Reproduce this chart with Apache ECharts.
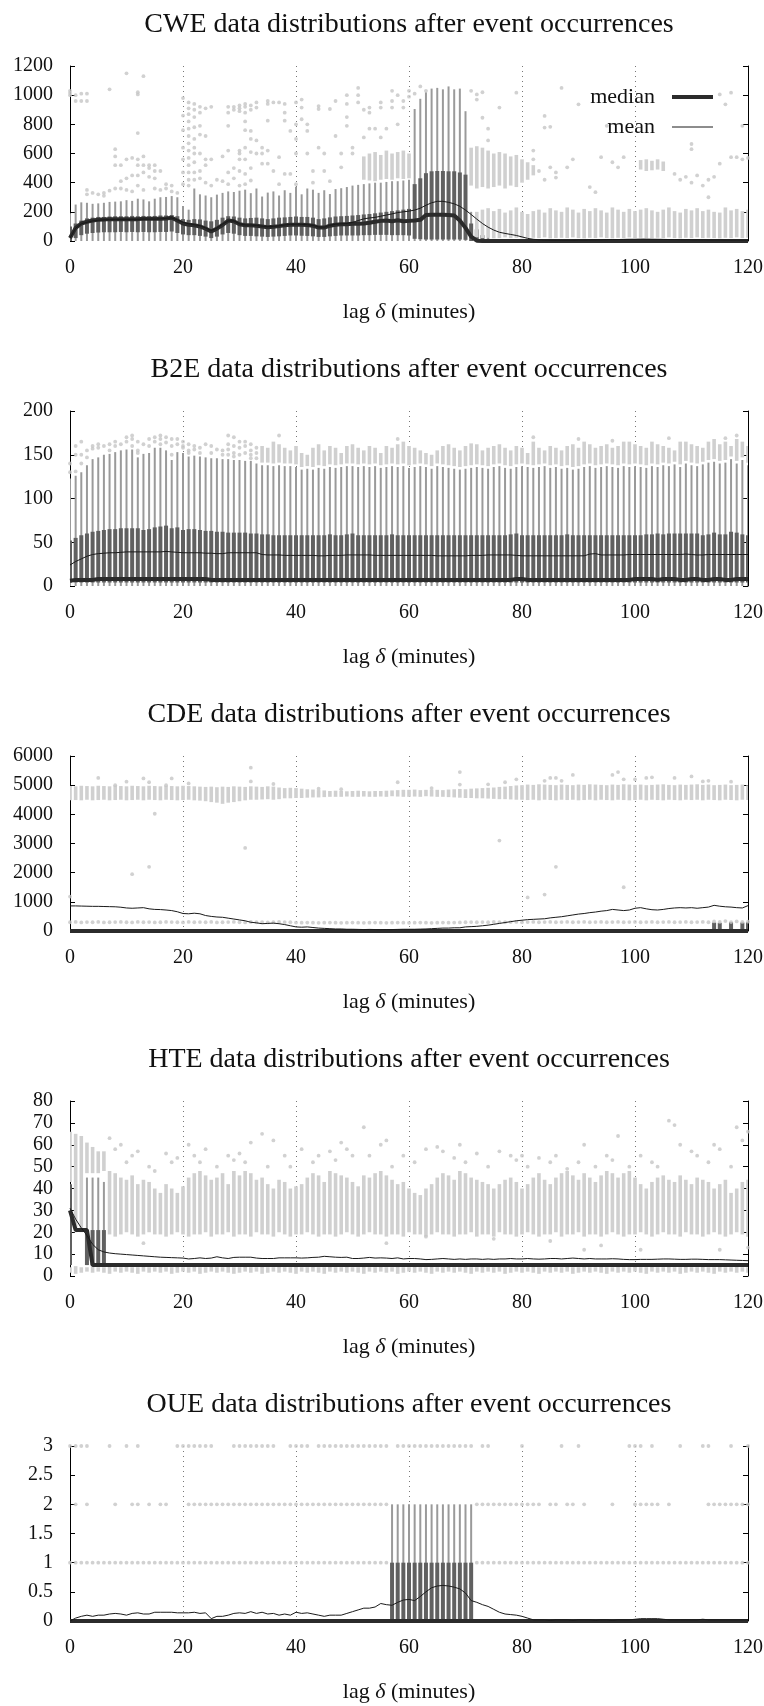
<!DOCTYPE html>
<html>
<head>
<meta charset="utf-8">
<title>Data distributions after event occurrences</title>
<script src="https://cdn.jsdelivr.net/npm/echarts@6/dist/echarts.min.js"></script>
<style>
html, body { margin: 0; padding: 0; background: #fff; }
#main { width: 764px; height: 1706px; }
</style>
</head>
<body>
<div id="main"></div>
<script>
// every array below is indexed by lag (minutes) unless a start lag is given

// ---------------- CWE ----------------
var cweMedian = [
  20, 90, 120, 132, 140, 145, 148, 150, 150, 150,
  150, 150, 150, 152, 152, 152, 152, 155, 160, 140,
  120, 112, 108, 100, 85, 65, 85, 110, 140, 135,
  115, 108, 108, 105, 100, 95, 98, 102, 108, 112,
  112, 112, 110, 105, 92, 92, 105, 112, 115, 115,
  118, 118, 120, 125, 132, 138, 140, 135, 142, 135,
  138, 140, 145, 178, 180, 180, 180, 178, 175, 140,
  90, 30, 2, 0, 0, 0, 0, 0, 0, 0,
  0, 0, 0, 0, 0, 0, 0, 0, 0, 0,
  0, 0, 0, 0, 0, 0, 0, 0, 0, 0,
  0, 0, 0, 0, 0, 0, 0, 0, 0, 0,
  0, 0, 0, 0, 0, 0, 0, 0, 0, 0,
  0];
var cweMean = [
  20, 88, 118, 128, 138, 142, 145, 147, 148, 148,
  148, 148, 148, 150, 150, 150, 152, 155, 158, 145,
  128, 118, 112, 105, 90, 72, 88, 115, 138, 138,
  118, 110, 110, 107, 102, 98, 100, 104, 110, 114,
  115, 114, 112, 108, 96, 95, 108, 115, 118, 120,
  128, 140, 152, 158, 162, 170, 178, 186, 195, 200,
  205, 212, 225, 245, 262, 272, 272, 265, 255, 238,
  212, 182, 150, 120, 95, 75, 60, 52, 45, 38,
  28, 18, 12, 8, 6, 5, 5, 5, 5, 5,
  6, 6, 7, 8, 8, 9, 10, 10, 11, 12,
  12, 13, 13, 12, 12, 11, 10, 10, 9, 9,
  8, 8, 8, 7, 7, 7, 6, 6, 6, 6,
  6];
// boxes for lags 0..74
var cweBoxStart = 0;
var cweWhiskerLow = 0;
var cweQ1 = [
  0, 20, 40, 50, 55, 58, 60, 60, 60, 62,
  60, 62, 60, 62, 60, 60, 62, 62, 65, 55,
  45, 40, 40, 35, 30, 20, 30, 45, 55, 50,
  40, 35, 35, 32, 30, 28, 30, 32, 35, 38,
  38, 36, 35, 32, 28, 28, 32, 35, 38, 38,
  38, 38, 40, 40, 42, 42, 42, 40, 40, 40,
  38, 15, 12, 10, 10, 10, 10, 10, 10, 10,
  8, 0, 0, 0, 0];
var cweQ3 = [
  100, 120, 140, 155, 160, 165, 165, 168, 170, 170,
  170, 172, 170, 172, 170, 172, 175, 175, 178, 170,
  150, 145, 150, 148, 140, 135, 145, 160, 170, 168,
  160, 155, 158, 160, 155, 150, 155, 160, 162, 165,
  168, 165, 165, 160, 150, 155, 162, 168, 170, 172,
  175, 178, 182, 185, 190, 195, 200, 205, 210, 215,
  220, 390, 430, 465, 478, 480, 480, 478, 478, 470,
  455, 120, 80, 40, 15];
var cweHi = [
  190, 250, 265, 262, 255, 258, 262, 268, 270, 272,
  280, 275, 290, 285, 272, 290, 300, 302, 308, 300,
  240, 215, 360, 320, 312, 300, 318, 330, 340, 336,
  345, 352, 328, 360, 305, 332, 340, 312, 348, 330,
  372, 320, 360, 352, 330, 348, 322, 356, 362, 370,
  380, 385, 390, 395, 400, 400, 405, 410, 410, 415,
  420, 905, 975, 1020, 1045, 1050, 1040, 1060, 1040, 1045,
  890, 200, 140, 90, 40];
// dense outlier columns
var cweLowBandLo = [ // lags 72..120
  25, 20, 22, 18, 20, 25, 20, 22, 18, 20,
  22, 20, 25, 18, 20, 22, 20, 25, 20, 18,
  22, 20, 25, 20, 18, 22, 20, 25, 20, 22,
  20, 18, 22, 20, 25, 20, 18, 22, 20, 25,
  20, 22, 20, 18, 22, 20, 25, 20, 22];
var cweLowBandHi = [
  200, 215, 225, 205, 220, 195, 210, 230, 200, 185,
  205, 215, 195, 225, 210, 200, 230, 215, 195, 220,
  205, 225, 210, 195, 230, 215, 200, 220, 205, 215,
  225, 210, 200, 215, 230, 205, 195, 220, 210, 225,
  205, 215, 200, 195, 230, 210, 220, 205, 215];
var cweUpBandLo = [380, 360, 370, 360, 370, 380, 360, 380, 370, 400, 420, 450]; // lags 71..82
var cweUpBandHi = [640, 650, 640, 620, 600, 610, 600, 580, 590, 560, 540, 520];
var cweMidBandLo = [420, 415, 410, 420, 425, 420, 430, 425, 430]; // lags 52..60
var cweMidBandHi = [580, 600, 610, 590, 620, 600, 610, 620, 600];
var cweLateBandLo = [490, 480, 485, 490, 480]; // lags 101..105
var cweLateBandHi = [555, 560, 550, 560, 545];
var cweOutliers = [
  [0,1000],[0,1015],[0,1030],[1,1000],[1,960],[2,1010],[2,960],[3,1010],[3,960],
  [3,350],[3,320],[4,330],[5,320],[6,310],[6,330],[7,1040],[7,345],[8,630],[8,580],[8,520],[8,360],
  [9,520],[9,410],[9,360],[10,1150],[10,560],[10,430],[10,350],[11,570],[11,450],[11,340],
  [12,1020],[12,1005],[12,740],[12,560],[12,520],[12,450],[12,380],[13,1130],[13,580],[13,520],[13,470],[13,350],
  [14,520],[14,500],[14,440],[15,520],[15,480],[15,430],[15,360],[16,480],[16,350],[17,390],[17,360],[18,380],[18,340],[19,330],
  [20,980],[20,860],[20,760],[20,640],[20,560],[20,470],[20,390],
  [21,950],[21,910],[21,870],[21,820],[21,770],[21,720],[21,670],[21,620],[21,570],[21,520],[21,470],[21,420],[21,380],
  [22,940],[22,900],[22,850],[22,780],[22,700],[22,640],[22,600],[22,540],[22,470],[22,420],
  [23,920],[23,880],[23,790],[23,730],[23,600],[23,480],[23,430],
  [24,910],[24,720],[24,560],[24,520],[24,400],[25,920],[25,560],[25,380],[26,420],[27,580],[27,410],
  [28,920],[28,880],[28,790],[28,620],[28,470],[28,390],[29,920],[29,900],[29,500],[29,430],
  [30,930],[30,910],[30,890],[30,620],[30,600],[30,560],[30,480],[30,380],
  [31,940],[31,920],[31,880],[31,820],[31,760],[31,640],[31,560],[31,460],[31,390],
  [32,930],[32,900],[32,755],[32,700],[32,610],[32,500],[32,415],
  [33,950],[33,915],[33,690],[33,600],[34,640],[34,600],[34,530],
  [35,960],[35,940],[35,825],[35,620],[35,530],[36,950],[36,480],[37,950],[37,575],[37,390],
  [38,940],[38,880],[38,825],[38,460],[39,755],[39,460],[40,950],[40,800],[40,700],[40,600],[40,390],
  [41,970],[41,915],[41,835],[42,800],[42,755],[42,600],[43,480],[43,400],
  [44,925],[44,905],[44,640],[45,600],[45,480],[46,410],[46,905],
  [47,960],[47,720],[48,600],[48,505],[49,1000],[49,940],[49,850],[49,790],[50,640],[50,600],
  [51,1050],[51,1000],[51,950],[52,900],[52,710],[53,915],[53,880],[53,770],[54,770],
  [55,950],[55,915],[55,710],[56,770],[57,1030],[57,960],[57,915],[58,1000],[58,800],[59,960],[59,915],
  [60,1030],[60,990],[61,1010],[62,1060],[63,1030],
  [71,1030],[72,1005],[72,970],[73,845],[73,1020],[74,770],[74,690],[76,915],
  [79,1017],[82,620],[82,560],[83,480],[84,858],[84,778],[84,420],[85,783],[85,505],[86,470],[86,435],[87,1050],[88,505],[89,560],
  [90,937],[92,370],[93,335],[94,575],[95,790],[96,540],[97,505],[98,575],
  [107,460],[108,420],[109,440],[110,665],[110,630],[110,400],[111,450],[112,380],[113,300],[113,420],[114,440],
  [115,1005],[115,530],[116,937],[117,1017],[117,575],[118,575],[119,790],[119,560],[120,570]
];

// ---------------- B2E ----------------
var b2eMedian = [
  6, 7, 7, 7, 7, 8, 8, 8, 8, 8,
  8, 8, 8, 8, 8, 8, 8, 8, 8, 8,
  8, 8, 8, 8, 8, 7, 7, 7, 7, 7,
  7, 7, 7, 7, 7, 7, 7, 7, 7, 7,
  7, 7, 7, 7, 7, 7, 7, 7, 7, 7,
  7, 7, 7, 7, 7, 7, 7, 7, 7, 7,
  7, 7, 7, 7, 7, 7, 7, 7, 7, 7,
  7, 7, 7, 7, 7, 7, 7, 7, 7, 8,
  8, 7, 7, 7, 7, 7, 7, 7, 7, 7,
  7, 7, 7, 7, 7, 7, 7, 7, 7, 7,
  8, 8, 8, 8, 7, 8, 8, 8, 7, 7,
  8, 8, 7, 7, 8, 8, 7, 7, 8, 8,
  8];
var b2eMean = [
  24, 28, 31, 34, 36, 37, 37.5, 38, 38, 38.5,
  39, 39, 39, 39, 39, 39, 39, 39.5, 39, 38.5,
  38, 38, 38, 38, 37.5, 37.5, 37, 37, 38, 38,
  38, 38, 38, 38, 36, 35.5, 35.5, 35.5, 35, 35,
  35, 35, 35, 35, 34.5, 34.5, 35, 35, 35, 35.5,
  35.5, 35.5, 35.5, 35.5, 35, 35, 35, 35, 35, 35,
  35, 35, 35, 35, 35, 34.5, 34.5, 34.5, 34.5, 34.5,
  34.5, 35, 35, 35, 35.5, 35.5, 35.5, 35.5, 35.5, 35,
  34.5, 34.5, 34.5, 34.5, 34.5, 34.5, 34.5, 34.5, 34.5, 34.5,
  34.5, 34.5, 36.5, 37, 35.5, 35.5, 35.5, 35.5, 35.5, 36,
  36, 36, 36, 36, 36, 36, 36, 36, 36, 36.5,
  36, 35.5, 35.5, 36, 36, 36, 36, 36, 36, 36,
  36];
var b2eBoxStart = 0;
var b2eWhiskerLow = 0;
var b2eQ1 = 4;
var b2eQ3 = [
  52, 55, 58, 60, 62, 63, 64, 65, 65, 66,
  66, 66, 66, 64, 65, 67, 68, 69, 66, 67,
  64, 65, 65, 64, 63, 63, 62, 62, 61, 61,
  61, 61, 60, 60, 59, 59, 58, 58, 58, 58,
  58, 58, 58, 58, 58, 58, 59, 58, 58, 59,
  60, 58, 58, 58, 58, 58, 58, 59, 58, 58,
  58, 58, 58, 58, 58, 58, 58, 58, 58, 58,
  58, 58, 58, 58, 58, 58, 58, 58, 59, 60,
  58, 58, 58, 58, 58, 58, 58, 58, 59, 58,
  58, 58, 58, 58, 58, 58, 58, 58, 58, 58,
  58, 58, 59, 59, 60, 59, 60, 60, 60, 60,
  60, 60, 58, 59, 61, 59, 59, 62, 61, 59,
  58];
var b2eHi = [
  123, 126, 130, 138, 145, 147, 150, 151, 153, 155,
  156, 156, 147, 151, 152, 158, 158, 155, 144, 153,
  152, 148, 149, 148, 147, 146, 146, 145, 145, 144,
  144, 143, 143, 140, 138, 138, 137, 138, 137, 137,
  136, 133, 134, 133, 135, 134, 136, 135, 136, 137,
  137, 136, 137, 136, 137, 135, 136, 137, 136, 137,
  135, 136, 137, 136, 134, 137, 136, 135, 134, 133,
  134, 135, 136, 135, 134, 136, 137, 135, 134, 136,
  137, 136, 135, 136, 137, 135, 136, 134, 135, 133,
  134, 136, 137, 135, 136, 137, 136, 135, 137, 136,
  137, 136, 135, 137, 136, 138, 137, 139, 136, 140,
  138, 137, 139, 141, 142, 140, 141, 145, 140, 144,
  138];
var b2eBandLo = [ // lags 34..120
  141, 141, 140, 141, 140, 140,
  139, 136, 137, 136, 138, 137, 139, 138, 139, 140,
  140, 139, 140, 139, 140, 138, 139, 140, 139, 140,
  138, 139, 140, 139, 137, 140, 139, 138, 137, 136,
  137, 138, 139, 138, 137, 139, 140, 138, 137, 139,
  140, 139, 138, 139, 140, 138, 139, 137, 138, 136,
  137, 139, 140, 138, 139, 140, 139, 138, 140, 139,
  140, 139, 138, 140, 139, 141, 140, 142, 139, 143,
  141, 140, 142, 144, 145, 143, 144, 148, 143, 147, 141];
var b2eBandHi = [
  160, 158, 165, 162, 158, 155,
  160, 152, 150, 158, 162, 155, 160, 158, 152, 160,
  162, 158, 155, 160, 158, 152, 160, 158, 162, 165,
  160, 158, 155, 152, 150, 155, 160, 162, 158, 155,
  160, 163, 162, 155, 158, 160, 162, 158, 155, 160,
  158, 152, 165, 158, 155, 160, 158, 155, 160, 162,
  158, 165, 162, 158, 160, 162, 158, 160, 165, 165,
  162, 160, 158, 165, 162, 160, 158, 155, 165, 165,
  162, 160, 158, 165, 168, 162, 165, 160, 168, 165, 160];
var b2eOutliers = [
  [0,130],[0,140],[1,131],[1,150],[1,160],[2,165],[2,150],[2,140],[3,155],[3,147],[4,160],[4,157],[5,162],[5,158],
  [6,160],[7,155],[7,162],[8,165],[8,160],[9,162],[10,170],[10,165],[11,172],[11,168],[11,160],
  [12,165],[12,155],[12,152],[13,162],[14,168],[14,160],[15,170],[15,165],[16,172],[16,168],[16,162],
  [17,170],[17,164],[18,168],[18,160],[18,150],[19,168],[19,162],[20,165],[20,160],[20,158],
  [21,162],[21,155],[21,152],[22,160],[22,156],[23,158],[23,152],[24,162],[25,160],[25,152],[26,156],
  [27,155],[27,150],[28,172],[28,162],[28,156],[28,150],[29,170],[29,160],[29,152],[29,148],
  [30,165],[30,158],[30,150],[31,165],[31,160],[31,152],[32,162],[32,155],[32,150],[32,146],
  [33,158],[33,152],[33,146],[37,172],[58,168],[82,170],[90,168],[96,166],[106,169],[116,169],[118,172]
];

// ---------------- CDE ----------------
var cdeMedian = [
  0, 0, 0, 0, 0, 0, 0, 0, 0, 0,
  0, 0, 0, 0, 0, 0, 0, 0, 0, 0,
  0, 0, 0, 0, 0, 0, 0, 0, 0, 0,
  0, 0, 0, 0, 0, 0, 0, 0, 0, 0,
  0, 0, 0, 0, 0, 0, 0, 0, 0, 0,
  0, 0, 0, 0, 0, 0, 0, 0, 0, 0,
  0, 0, 0, 0, 0, 0, 0, 0, 0, 0,
  0, 0, 0, 0, 0, 0, 0, 0, 0, 0,
  0, 0, 0, 0, 0, 0, 0, 0, 0, 0,
  0, 0, 0, 0, 0, 0, 0, 0, 0, 0,
  0, 0, 0, 0, 0, 0, 0, 0, 0, 0,
  0, 0, 0, 0, 0, 0, 0, 0, 0, 0,
  0];
var cdeMean = [
  860, 860, 855, 850, 845, 845, 840, 835, 830, 815,
  790, 780, 790, 800, 760, 740, 735, 720, 700, 660,
  600, 590, 610, 590, 530, 500, 480, 470, 440, 410,
  380, 350, 300, 280, 250, 260, 270, 250, 220, 180,
  140, 130, 140, 120, 100, 90, 80, 70, 70, 60,
  60, 55, 50, 55, 50, 45, 50, 50, 55, 60,
  60, 60, 65, 70, 80, 90, 100, 100, 110, 110,
  140, 150, 160, 180, 200, 230, 260, 290, 320, 350,
  370, 390, 400, 410, 420, 450, 470, 490, 520, 550,
  580, 600, 630, 650, 680, 700, 740, 720, 700, 720,
  780, 800, 760, 730, 720, 740, 770, 790, 800, 790,
  800, 780, 800, 820, 880, 850, 830, 820, 800, 790,
  870];
// boxes for lags 114..120
var cdeBoxStart = 114;
var cdeWhiskerLow = 0;
var cdeQ1 = 0;
var cdeQ3 = [290, 280, 0, 300, 0, 290, 300];
var cdeHi = [290, 280, 0, 300, 0, 290, 300];
var cdeUpBandLo = [
  4480, 4490, 4480, 4500, 4480, 4490, 4500, 4480, 4490, 4500,
  4480, 4490, 4500, 4480, 4500, 4490, 4480, 4500, 4490, 4480,
  4490, 4500, 4480, 4470, 4450, 4420, 4400, 4360, 4400, 4420,
  4450, 4480, 4500, 4500, 4510, 4520, 4500, 4520, 4550, 4550,
  4560, 4560, 4570, 4580, 4580, 4590, 4600, 4600, 4600, 4610,
  4600, 4600, 4610, 4600, 4600, 4610, 4600, 4620, 4610, 4600,
  4600, 4610, 4600, 4620, 4610, 4600, 4600, 4590, 4580, 4570,
  4560, 4560, 4550, 4550, 4540, 4530, 4520, 4520, 4510, 4500,
  4500, 4490, 4500, 4480, 4500, 4490, 4480, 4500, 4490, 4500,
  4480, 4490, 4500, 4480, 4500, 4490, 4480, 4500, 4490, 4480,
  4490, 4500, 4480, 4500, 4490, 4480, 4500, 4490, 4480, 4500,
  4490, 4500, 4480, 4500, 4490, 4480, 4500, 4490, 4480, 4500,
  4490];
var cdeUpBandHi = [
  4970, 4960, 4980, 4970, 4960, 4980, 4970, 4960, 4990, 4970,
  4960, 4980, 4970, 4960, 4980, 4970, 4960, 4980, 4970, 4960,
  4980, 4970, 4960, 4950, 4940, 4950, 4930, 4950, 4940, 4960,
  4950, 4940, 4960, 4950, 4940, 4960, 4950, 4920, 4900, 4910,
  4900, 4880, 4860, 4850, 4830, 4820, 4800, 4810, 4800, 4790,
  4800, 4810, 4800, 4790, 4800, 4800, 4810, 4820, 4830, 4840,
  4840, 4850, 4830, 4840, 4850, 4840, 4830, 4850, 4860, 4870,
  4860, 4880, 4890, 4900, 4910, 4920, 4940, 4950, 4970, 4990,
  5000, 5020, 5010, 5030, 5020, 5010, 5000, 5020, 5010, 5000,
  5020, 5010, 5030, 5020, 5010, 5000, 5020, 5010, 5030, 5020,
  5010, 5020, 5000, 5010, 5020, 5030, 5010, 5000, 5020, 5010,
  5020, 5030, 5010, 5020, 5000, 5010, 5020, 5000, 5010, 5020,
  5000];
// the single row of outliers just above zero, one per lag
var cdeLowRow = [
  300, 310, 295, 305, 300, 310, 295, 300, 305, 310,
  300, 295, 310, 300, 305, 295, 300, 310, 305, 300,
  295, 310, 300, 305, 300, 310, 295, 300, 305, 310,
  300, 295, 310, 300, 305, 295, 300, 310, 305, 300,
  290, 285, 290, 285, 280, 285, 290, 285, 280, 285,
  290, 285, 280, 285, 290, 285, 280, 285, 290, 285,
  280, 285, 290, 285, 280, 285, 290, 285, 290, 295,
  300, 305, 300, 305, 300, 310, 305, 300, 305, 310,
  300, 305, 310, 300, 305, 310, 300, 305, 310, 300,
  305, 310, 300, 305, 310, 300, 305, 310, 300, 305,
  310, 300, 305, 310, 300, 305, 310, 300, 305, 310,
  300, 305, 310, 300, 330, 310, 340, 305, 330, 310,
  320];
var cdeOutliers = [
  [0,1180],[5,5250],[8,5000],[10,5120],[11,1950],[13,5230],[14,5100],[14,2200],[15,4020],[17,5000],
  [18,5230],[21,5060],[31,2850],[32,5600],[32,5130],[36,5040],[44,4880],[48,4860],[58,5100],[64,4900],
  [69,5450],[69,5020],[74,5030],[76,3100],[77,5100],[79,5200],[81,1150],[84,1250],[84,5150],[85,5250],
  [86,5250],[86,2200],[87,5150],[89,5350],[96,5350],[97,5450],[98,5200],[98,1500],[100,5200],[102,5250],
  [103,5270],[107,5250],[110,5300],[112,5130],[113,5150],[117,5120]
];

// ---------------- HTE ----------------
var hteMedian = [
  30, 21, 21, 21, 5, 5, 5, 5, 5, 5,
  5, 5, 5, 5, 5, 5, 5, 5, 5, 5,
  5, 5, 5, 5, 5, 5, 5, 5, 5, 5,
  5, 5, 5, 5, 5, 5, 5, 5, 5, 5,
  5, 5, 5, 5, 5, 5, 5, 5, 5, 5,
  5, 5, 5, 5, 5, 5, 5, 5, 5, 5,
  5, 5, 5, 5, 5, 5, 5, 5, 5, 5,
  5, 5, 5, 5, 5, 5, 5, 5, 5, 5,
  5, 5, 5, 5, 5, 5, 5, 5, 5, 5,
  5, 5, 5, 5, 5, 5, 5, 5, 5, 5,
  5, 5, 5, 5, 5, 5, 5, 5, 5, 5,
  5, 5, 5, 5, 5, 5, 5, 5, 5, 5,
  5];
var hteMean = [
  31, 26, 22, 18.5, 14.5, 12, 11, 10.5, 10.2, 10,
  9.8, 9.6, 9.4, 9.2, 9, 8.8, 8.6, 8.5, 8.4, 8.3,
  8.2, 7.8, 8, 8.3, 8, 8.2, 8.8, 8.3, 8, 8.5,
  8.6, 8.6, 8.6, 8.2, 8, 8, 8, 8.3, 8.3, 8.3,
  8.3, 8.2, 8.3, 8.5, 8.6, 9, 8.8, 8.6, 8.5, 8.6,
  8, 8, 8.2, 8.5, 8.2, 8.3, 8.2, 8, 8.3, 7.8,
  8, 8, 7.8, 7.5, 7.6, 7.8, 8, 7.8, 7.6, 7.8,
  7.6, 7.8, 7.8, 7.6, 7.8, 7.6, 7.8, 7.8, 8, 7.8,
  7.8, 8, 7.8, 7.7, 7.8, 8, 8, 7.8, 8, 8.2,
  8, 7.8, 8, 7.8, 7.8, 7.8, 7.9, 7.8, 7.6, 7.5,
  7.5, 7.6, 7.6, 7.6, 7.7, 7.8, 7.8, 7.7, 7.6, 7.6,
  7.7, 7.7, 7.6, 7.5, 7.5, 7.5, 7.4, 7.3, 7.2, 7.1,
  7.0];
// boxes for lags 0..6
var hteBoxStart = 0;
var hteWhiskerLow = [5, 21, 21, 5, 5, 5, 5];
var hteQ1 = [5, 21, 21, 5, 5, 5, 5];
var hteQ3 = [42, 21, 21, 21, 21, 21, 21];
var hteHi = [42, 21, 21, 45, 45, 45, 43];
var hteEarlyBandLo = [43, 20, 20, 47, 47, 47, 48]; // lags 0..6
var hteEarlyBandHi = [66, 65, 64, 61, 59, 57, 57];
var hteBandLo = [ // lags 7..120
  19, 18, 19, 20, 19, 18, 19, 20, 19, 19,
  18, 19, 20, 19, 18, 19, 19, 20, 18, 19,
  19, 20, 18, 19, 19, 18, 20, 19, 19, 18,
  20, 19, 18, 19, 19, 20, 19, 18, 19, 19,
  18, 19, 20, 19, 18, 19, 20, 19, 19, 18,
  19, 19, 18, 20, 19, 19, 18, 19, 20, 19,
  19, 18, 19, 19, 20, 18, 19, 19, 18, 20,
  19, 19, 18, 19, 20, 19, 18, 19, 19, 20,
  18, 19, 19, 20, 18, 19, 19, 18, 19, 20,
  19, 18, 19, 19, 20, 19, 18, 19, 20, 19,
  19, 18, 20, 19, 19, 18, 19, 20, 19, 18,
  19, 20, 19, 18];
var hteBandHi = [
  48, 47, 45, 44, 46, 42, 44, 43, 40, 38,
  42, 40, 38, 41, 45, 47, 48, 46, 44, 45,
  47, 42, 48, 46, 48, 47, 44, 45, 42, 40,
  44, 43, 40, 41, 42, 45, 47, 46, 43, 48,
  47, 46, 45, 43, 41, 46, 45, 47, 48, 46,
  44, 42, 43, 40, 38, 37, 40, 42, 45, 47,
  46, 44, 48, 47, 45, 44, 43, 42, 40, 42,
  44, 45, 43, 40, 42, 45, 47, 44, 42, 45,
  47, 48, 46, 44, 47, 45, 43, 46, 48, 47,
  45, 47, 48, 45, 42, 40, 43, 45, 46, 44,
  43, 46, 44, 42, 45, 44, 43, 40, 42, 44,
  38, 40, 43, 44];
var hteFloorLo = [ // lags 0..120, dots just under the median
  1.5, 1, 1.5, 2, 1.5, 2, 1.5, 1, 2, 1.5,
  2, 1.5, 1, 2, 1.5, 2, 1.5, 2, 1, 1.5,
  2, 1.5, 2, 1, 1.5, 2, 1.5, 2, 1.5, 1,
  1.5, 2, 1.5, 2, 1, 1.5, 2, 1.5, 2, 1.5,
  1, 2, 1.5, 2, 1.5, 1, 2, 1.5, 2, 1.5,
  2, 1.5, 1, 2, 1.5, 2, 1.5, 2, 1, 1.5,
  2, 1.5, 2, 1.5, 1, 2, 1.5, 2, 1.5, 2,
  1.5, 1, 2, 1.5, 2, 1.5, 2, 1, 1.5, 2,
  1.5, 2, 1.5, 1, 2, 1.5, 2, 1.5, 2, 1,
  1.5, 2, 1.5, 2, 1.5, 1, 2, 1.5, 2, 1.5,
  2, 1.5, 1, 2, 1.5, 2, 1.5, 2, 1, 1.5,
  2, 1.5, 2, 1.5, 1, 2, 1.5, 2, 1.5, 2,
  1.5];
var hteFloorHi = [
  4, 4.5, 4, 4, 4.5, 4, 4, 4.5, 4, 4,
  4.5, 4, 4, 4.5, 4, 4, 4.5, 4, 4, 4.5,
  4, 4, 4.5, 4, 4, 4.5, 4, 4, 4.5, 4,
  4, 4.5, 4, 4, 4.5, 4, 4, 4.5, 4, 4,
  4.5, 4, 4, 4.5, 4, 4, 4.5, 4, 4, 4.5,
  4, 4, 4.5, 4, 4, 4.5, 4, 4, 4.5, 4,
  4, 4.5, 4, 4, 4.5, 4, 4, 4.5, 4, 4,
  4.5, 4, 4, 4.5, 4, 4, 4.5, 4, 4, 4.5,
  4, 4, 4.5, 4, 4, 4.5, 4, 4, 4.5, 4,
  4, 4.5, 4, 4, 4.5, 4, 4, 4.5, 4, 4,
  4.5, 4, 4, 4.5, 4, 4, 4.5, 4, 4, 4.5,
  4, 4, 4.5, 4, 4, 4.5, 4, 4, 4.5, 4,
  4];
var hteOutliers = [
  [7,63],[8,58],[9,60],[10,52],[11,55],[12,57],[14,50],[15,48],[17,56],[18,52],[19,54],[21,60],[22,55],
  [23,52],[24,58],[26,50],[28,55],[29,53],[30,56],[31,52],[32,61],[34,65],[35,50],[36,62],[38,55],
  [39,50],[41,58],[43,52],[44,55],[46,57],[47,53],[48,61],[49,58],[50,55],[52,68],[53,55],[55,60],
  [56,62],[57,50],[59,55],[61,52],[63,58],[65,59],[66,57],[68,54],[69,60],[70,52],[72,56],[74,50],
  [76,57],[78,55],[79,53],[80,55],[81,50],[83,54],[85,52],[86,55],[88,49],[90,52],[91,60],[93,50],
  [95,55],[96,53],[97,64],[99,50],[101,55],[103,52],[104,50],[106,71],[107,69],[108,60],[110,57],
  [111,55],[113,52],[114,60],[115,58],[117,50],[118,68],[119,62],[120,66],
  [13,15],[56,15],[63,18],[75,17],[85,16],[91,12],[94,14],[101,12],[115,12],[120,13]
];

// ---------------- OUE ----------------
var oueMedian = [
  0, 0, 0, 0, 0, 0, 0, 0, 0, 0,
  0, 0, 0, 0, 0, 0, 0, 0, 0, 0,
  0, 0, 0, 0, 0, 0, 0, 0, 0, 0,
  0, 0, 0, 0, 0, 0, 0, 0, 0, 0,
  0, 0, 0, 0, 0, 0, 0, 0, 0, 0,
  0, 0, 0, 0, 0, 0, 0, 0, 0, 0,
  0, 0, 0, 0, 0, 0, 0, 0, 0, 0,
  0, 0, 0, 0, 0, 0, 0, 0, 0, 0,
  0, 0, 0, 0, 0, 0, 0, 0, 0, 0,
  0, 0, 0, 0, 0, 0, 0, 0, 0, 0,
  0, 0, 0, 0, 0, 0, 0, 0, 0, 0,
  0, 0, 0, 0, 0, 0, 0, 0, 0, 0,
  0];
var oueMean = [
  0, 0.05, 0.08, 0.1, 0.08, 0.1, 0.1, 0.12, 0.13, 0.12,
  0.1, 0.13, 0.14, 0.12, 0.12, 0.15, 0.15, 0.15, 0.15, 0.14,
  0.14, 0.14, 0.15, 0.13, 0.14, 0.04, 0.08, 0.08, 0.1, 0.13,
  0.14, 0.13, 0.16, 0.13, 0.15, 0.12, 0.13, 0.1, 0.12, 0.1,
  0.15, 0.13, 0.14, 0.12, 0.1, 0.08, 0.1, 0.1, 0.1, 0.13,
  0.16, 0.19, 0.22, 0.22, 0.24, 0.3, 0.28, 0.27, 0.32, 0.36,
  0.37, 0.35, 0.42, 0.5, 0.57, 0.6, 0.61, 0.6, 0.58, 0.55,
  0.48, 0.35, 0.32, 0.28, 0.25, 0.2, 0.15, 0.12, 0.11, 0.1,
  0.08, 0.05, 0.02, 0.02, 0.02, 0.01, 0.02, 0.02, 0.02, 0.01,
  0.02, 0.02, 0.02, 0.01, 0.02, 0.02, 0.01, 0.02, 0.02, 0.02,
  0.03, 0.04, 0.04, 0.04, 0.04, 0.03, 0.02, 0.02, 0.02, 0.02,
  0.02, 0.02, 0.03, 0.02, 0.02, 0.02, 0.02, 0.02, 0.02, 0.02,
  0.02];
// boxes for lags 57..71
var oueBoxStart = 57;
var oueWhiskerLow = 0;
var oueQ1 = 0;
var oueQ3 = [1, 1, 1, 1, 1, 1, 1, 1, 1, 1, 1, 1, 1, 1, 1];
var oueHi = [2, 2, 2, 2, 2, 2, 2, 2, 2, 2, 2, 2, 2, 2, 2];
// lags that have an outlier at the value 1, 2 and 3
var oueLagsAt1 = [
  0, 1, 2, 3, 4, 5, 6, 7, 8, 9, 10, 11, 12, 13, 14, 15, 16, 17, 18, 19,
  20, 21, 22, 23, 24, 25, 26, 27, 28, 29, 30, 31, 32, 33, 34, 35, 36, 37, 38, 39,
  40, 41, 42, 43, 44, 45, 46, 47, 48, 49, 50, 51, 52, 53, 54, 55, 56,
  72, 73, 74, 75, 76, 77, 78, 79, 80, 81, 82, 83, 84, 85, 86, 87, 88, 89,
  90, 91, 92, 93, 94, 95, 96, 97, 98, 99, 100, 101, 102, 103, 104, 105, 106, 107, 108, 109,
  110, 111, 112, 113, 114, 115, 116, 117, 118, 119, 120];
var oueLagsAt2 = [
  1, 3, 8, 11, 12, 14, 16, 17,
  21, 22, 23, 24, 25, 26, 27, 28, 29, 30, 31, 32, 33, 34, 35, 36, 37, 38, 39,
  40, 41, 42, 43, 44, 45, 46, 47, 48, 49, 50, 51, 52, 53, 54, 55, 56,
  72, 73, 74, 75, 76, 77, 78, 79, 80, 81, 82, 83, 85, 86, 88, 89, 91, 96,
  100, 101, 102, 103, 104, 106, 113, 114, 115, 116, 117, 118, 119, 120];
var oueLagsAt3 = [
  0, 1, 2, 3, 7, 10, 12, 19, 20, 21, 22, 23, 24, 25,
  29, 30, 31, 32, 33, 34, 35, 36, 39, 40, 41, 42, 44, 45, 46, 47, 48,
  49, 50, 51, 52, 53, 54, 55, 56, 58, 59, 60, 61, 62, 63, 64, 65, 66, 67, 68, 69, 70, 71,
  73, 74, 80, 87, 90, 99, 100, 101, 103, 108, 112, 113, 117, 120];

var yMax = [1200, 200, 6000, 80, 3];
var yStep = [200, 50, 1000, 10, 0.5];
var titles = [
  'CWE data distributions after event occurrences',
  'B2E data distributions after event occurrences',
  'CDE data distributions after event occurrences',
  'HTE data distributions after event occurrences',
  'OUE data distributions after event occurrences'
];

// ---------------- helpers ----------------
function pick(a, i) { return Array.isArray(a) ? a[i] : a; }
function pairs(values) { return values.map(function (v, i) { return [i, v]; }); }
function boxData(start, lo, q1, q3, hi) {
  return q3.map(function (v, i) { return [start + i, pick(lo, i), pick(q1, i), v, hi[i]]; });
}
function bandData(list) {
  var out = [];
  list.forEach(function (b) {
    b[1].forEach(function (v, i) { out.push([b[0] + i, v, b[2][i]]); });
  });
  return out;
}
function rowPoints(lags, value) { return lags.map(function (l) { return [l, value]; }); }

function renderBox(params, api) {
  var x = api.value(0);
  var pLo = api.coord([x, api.value(1)]);
  var pQ1 = api.coord([x, api.value(2)]);
  var pQ3 = api.coord([x, api.value(3)]);
  var pHi = api.coord([x, api.value(4)]);
  return {
    type: 'group',
    children: [
      { type: 'rect', shape: { x: pLo[0] - 1, y: pHi[1], width: 2, height: pLo[1] - pHi[1] },
        style: { fill: '#9a9a9a' } },
      { type: 'rect', shape: { x: pQ1[0] - 2, y: pQ3[1], width: 4, height: pQ1[1] - pQ3[1] },
        style: { fill: '#606060' } }
    ]
  };
}
function renderBand(params, api) {
  var x = api.value(0);
  var a = api.coord([x, api.value(1)]);
  var b = api.coord([x, api.value(2)]);
  return { type: 'rect', shape: { x: a[0] - 1.8, y: b[1], width: 3.6, height: a[1] - b[1] },
    style: { fill: '#d0d0d0' } };
}

var panels = [
  { median: cweMedian, mean: cweMean,
    boxes: boxData(cweBoxStart, cweWhiskerLow, cweQ1, cweQ3, cweHi),
    bands: bandData([[72, cweLowBandLo, cweLowBandHi], [71, cweUpBandLo, cweUpBandHi],
                     [52, cweMidBandLo, cweMidBandHi], [101, cweLateBandLo, cweLateBandHi]]),
    outliers: cweOutliers },
  { median: b2eMedian, mean: b2eMean,
    boxes: boxData(b2eBoxStart, b2eWhiskerLow, b2eQ1, b2eQ3, b2eHi),
    bands: bandData([[34, b2eBandLo, b2eBandHi]]),
    outliers: b2eOutliers },
  { median: cdeMedian, mean: cdeMean,
    boxes: boxData(cdeBoxStart, cdeWhiskerLow, cdeQ1, cdeQ3, cdeHi),
    bands: bandData([[0, cdeUpBandLo, cdeUpBandHi]]),
    outliers: cdeOutliers.concat(pairs(cdeLowRow)) },
  { median: hteMedian, mean: hteMean,
    boxes: boxData(hteBoxStart, hteWhiskerLow, hteQ1, hteQ3, hteHi),
    bands: bandData([[0, hteEarlyBandLo, hteEarlyBandHi], [7, hteBandLo, hteBandHi], [0, hteFloorLo, hteFloorHi]]),
    outliers: hteOutliers },
  { median: oueMedian, mean: oueMean,
    boxes: boxData(oueBoxStart, oueWhiskerLow, oueQ1, oueQ3, oueHi),
    bands: [],
    outliers: rowPoints(oueLagsAt1, 1).concat(rowPoints(oueLagsAt2, 2), rowPoints(oueLagsAt3, 3)) }
];

var FONT = 'Liberation Serif';
var gridTop = [66, 411, 756, 1101, 1446];
var gridHeight = 175;
var grids = [], xAxes = [], yAxes = [], series = [], graphics = [];

panels.forEach(function (p, k) {
  grids.push({ left: 70, right: 16, top: gridTop[k], height: gridHeight, outerBoundsMode: 'none' });
  graphics.push({
    type: 'text', x: 409, y: gridTop[k] - 41,
    style: { text: titles[k], font: '28px "' + FONT + '"', fill: '#111', align: 'center', verticalAlign: 'middle' }
  });
  xAxes.push({
    type: 'value', gridIndex: k, min: 0, max: 120, interval: 20,
    axisLine: { show: false }, axisTick: { show: false },
    axisLabel: { fontFamily: FONT, fontSize: 20, color: '#111', margin: 17 },
    splitLine: { show: true, lineStyle: { color: '#777', width: 1, type: [1, 4] } },
    name: 'lag {d|δ} (minutes)', nameLocation: 'middle', nameGap: 60,
    nameTextStyle: { fontFamily: FONT, fontSize: 22, color: '#111',
      rich: { d: { fontFamily: FONT, fontSize: 22, fontStyle: 'italic', color: '#111' } } }
  });
  yAxes.push({
    type: 'value', gridIndex: k, min: 0, max: yMax[k], interval: yStep[k], position: 'left',
    axisLine: { show: true, lineStyle: { color: '#000', width: 1 } },
    axisTick: { show: true, inside: true, length: 5, lineStyle: { color: '#000' } },
    axisLabel: { fontFamily: FONT, fontSize: 20, color: '#111', margin: 17,
      formatter: function (v) { return String(v); } },
    splitLine: { show: false }
  });
  yAxes.push({
    type: 'value', gridIndex: k, min: 0, max: yMax[k], interval: yStep[k], position: 'right',
    axisLine: { show: true, lineStyle: { color: '#000', width: 1 } },
    axisTick: { show: true, inside: true, length: 5, lineStyle: { color: '#000' } },
    axisLabel: { show: false }, splitLine: { show: false }
  });
  series.push({
    type: 'custom', xAxisIndex: k, yAxisIndex: 2 * k, renderItem: renderBox,
    data: p.boxes, encode: { x: 0, y: [1, 2, 3, 4] }, clip: true, silent: true, z: 2
  });
  if (p.bands.length) {
    series.push({
      type: 'custom', xAxisIndex: k, yAxisIndex: 2 * k, renderItem: renderBand,
      data: p.bands, encode: { x: 0, y: [1, 2] }, clip: true, silent: true, z: 3
    });
  }
  series.push({
    type: 'scatter', xAxisIndex: k, yAxisIndex: 2 * k, data: p.outliers,
    symbol: 'circle', symbolSize: 3.8, itemStyle: { color: '#c6c6c6' }, silent: true, z: 3
  });
  series.push({
    type: 'line', name: 'median', xAxisIndex: k, yAxisIndex: 2 * k, data: pairs(p.median),
    symbol: 'none', clip: false, itemStyle: { color: '#2b2b2b' },
    lineStyle: { color: '#2b2b2b', width: 4 }, silent: true, z: 4
  });
  series.push({
    type: 'line', name: 'mean', xAxisIndex: k, yAxisIndex: 2 * k, data: pairs(p.mean),
    symbol: 'none', itemStyle: { color: '#1a1a1a' },
    lineStyle: { color: '#1a1a1a', width: 1 }, silent: true, z: 5
  });
});

var chart = echarts.init(document.getElementById('main'));
chart.setOption({
  animation: false,
  backgroundColor: '#fff',
  textStyle: { fontFamily: FONT },
  graphic: { elements: graphics },
  legend: {
    data: ['median', 'mean'], orient: 'vertical', right: 44, top: 81, align: 'right',
    itemWidth: 41, itemHeight: 14, itemGap: 8, selectedMode: false,
    itemStyle: { opacity: 0 },
    lineStyle: { width: 'inherit', opacity: 1 },
    textStyle: { fontFamily: FONT, fontSize: 22, color: '#111', padding: [0, 12, 0, 0] }
  },
  grid: grids,
  xAxis: xAxes,
  yAxis: yAxes,
  series: series
});
</script>
</body>
</html>
